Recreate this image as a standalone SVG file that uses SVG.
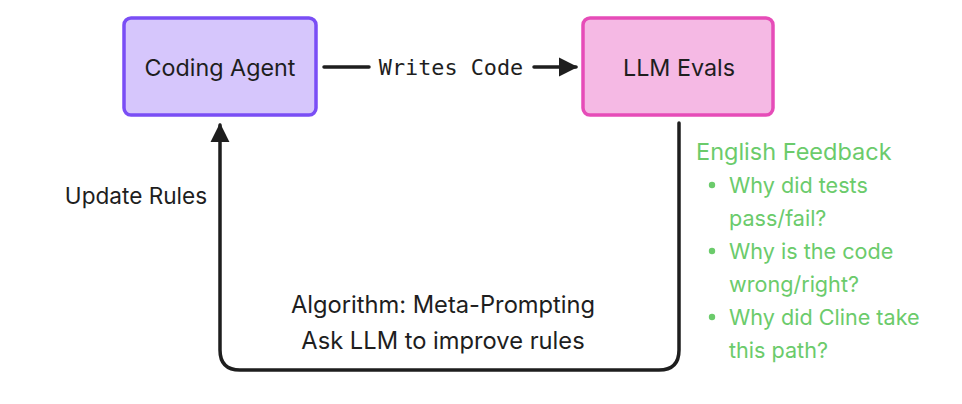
<svg xmlns="http://www.w3.org/2000/svg" width="962" height="404" viewBox="0 0 962 404">
<style>
.lbl{font-family:Inter,"Noto Sans",sans-serif;font-size:23.3px;fill:#1e1e1e}
.mono{font-family:"DejaVu Sans Mono","Liberation Mono",monospace;font-size:21.8px;fill:#1e1e1e}
.green{font-family:Inter,"Noto Sans",sans-serif;font-size:21.6px;fill:#6bcb6b}
.edge{fill:none;stroke:#1e1e1e;stroke-width:3.5;stroke-linecap:round;stroke-linejoin:round}
</style>
<defs>
<marker id="ah" viewBox="0 0 10 10" refX="9" refY="5" markerWidth="5.5" markerHeight="5.5" orient="auto-start-reverse" markerUnits="strokeWidth">
<path d="M0,0 L10,5 L0,10 Z" fill="#1e1e1e"/>
</marker>
</defs>
<rect width="962" height="404" fill="#ffffff"/>
<g id="coding-agent">
<rect x="124" y="18" width="192" height="97" rx="7" fill="#d6c6fc" stroke="#7a4ef5" stroke-width="3.5"/>
<text class="lbl" x="220" y="76" text-anchor="middle">Coding Agent</text>
</g>
<g id="llm-evals">
<rect x="583" y="18" width="190" height="97" rx="7" fill="#f5b9e4" stroke="#e64cb8" stroke-width="3.5"/>
<text class="lbl" x="679" y="76" text-anchor="middle">LLM Evals</text>
</g>
<g id="connectors">
<line class="edge" x1="324" y1="67" x2="369" y2="67"/>
<line class="edge" x1="534" y1="67" x2="576" y2="67" marker-end="url(#ah)"/>
<text class="mono" x="451" y="75" text-anchor="middle">Writes Code</text>
<path class="edge" d="M679,123 L679,350 Q679,370 659,370 L240,370 Q220,370 220,350 L220,125" marker-end="url(#ah)"/>
<text class="lbl" x="136" y="204" text-anchor="middle" style="font-size:22.6px">Update Rules</text>
<text class="lbl" x="443" y="313" text-anchor="middle" style="font-size:23.7px">Algorithm: Meta-Prompting</text>
<text class="lbl" x="443" y="349" text-anchor="middle" style="font-size:23.7px">Ask LLM to improve rules</text>
</g>
<g id="feedback">
<text class="green" x="696" y="160" style="font-size:23.5px">English Feedback</text>
<circle cx="712" cy="185" r="3.2" fill="#6bcb6b"/>
<text class="green" x="729" y="193">Why did tests</text>
<text class="green" x="729" y="226">pass/fail?</text>
<circle cx="712" cy="251" r="3.2" fill="#6bcb6b"/>
<text class="green" x="729" y="259">Why is the code</text>
<text class="green" x="729" y="292">wrong/right?</text>
<circle cx="712" cy="317" r="3.2" fill="#6bcb6b"/>
<text class="green" x="729" y="325">Why did Cline take</text>
<text class="green" x="729" y="358">this path?</text>
</g>
</svg>
